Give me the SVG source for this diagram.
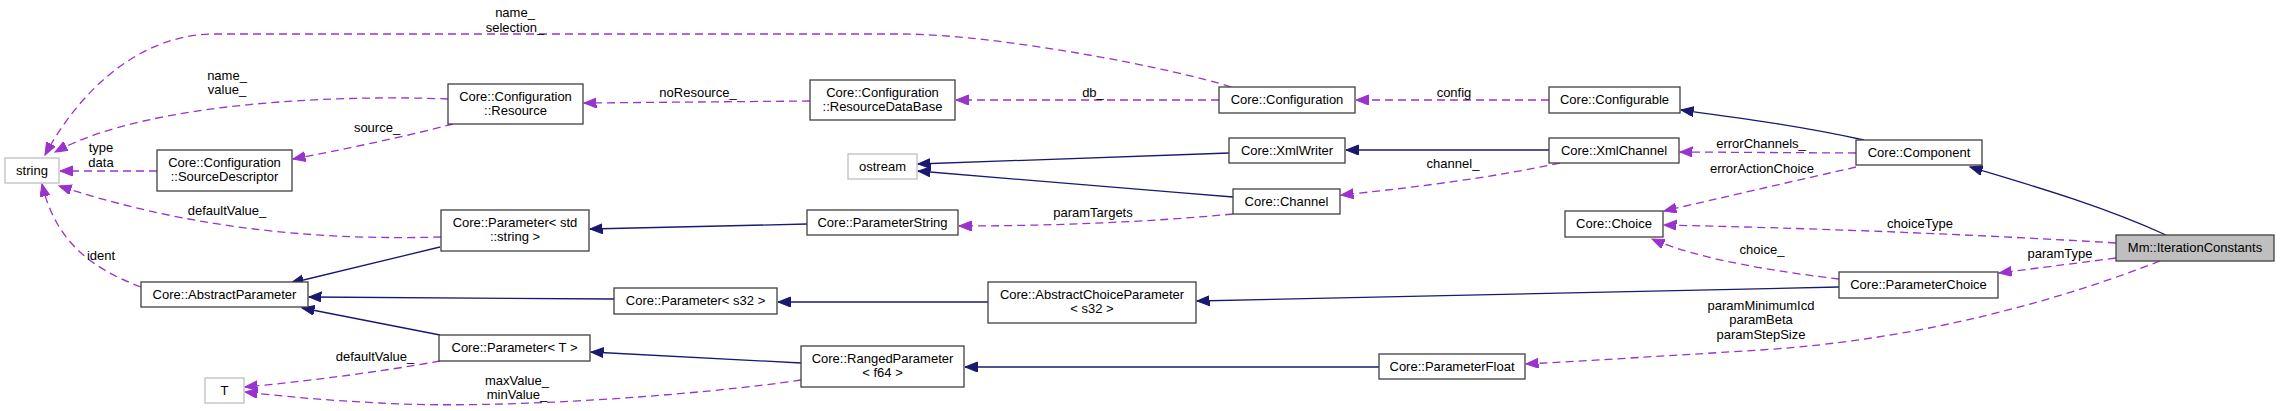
<svg xmlns="http://www.w3.org/2000/svg" width="2280" height="411" viewBox="0 0 2280 411">
<defs>
<marker id="ab" markerUnits="userSpaceOnUse" markerWidth="14" markerHeight="11" refX="12.5" refY="5" orient="auto"><path d="M0,0 L12.5,5 L0,10 Z" fill="#191970" stroke="#191970"/></marker>
<marker id="ap" markerUnits="userSpaceOnUse" markerWidth="14" markerHeight="11" refX="12.5" refY="5" orient="auto"><path d="M0,0 L12.5,5 L0,10 Z" fill="#9a32cd" stroke="#9a32cd"/></marker>
<style>
text{font-family:"Liberation Sans",Arial,sans-serif;font-size:13px;fill:#000;text-anchor:middle}
.n rect{fill:#fff;stroke:#404040;stroke-width:1.3}
.g rect{fill:#fff;stroke:#bfbfbf;stroke-width:1.3}
.h rect{fill:#bfbfbf;stroke:#404040;stroke-width:1.3}
.b{fill:none;stroke:#191970;stroke-width:1.3;marker-end:url(#ab)}
.p{fill:none;stroke:#9a32cd;stroke-width:1.3;stroke-dasharray:8,5;marker-end:url(#ap)}
</style>
</defs>
<rect width="2280" height="411" fill="#fff"/>
<g id="edges">
<path class="p" d="M1231,87 C1180,70 1000,34 900,34 L215,34 C140,34 80,90 45,155"/>
<path class="p" d="M448,99 C350,95 150,100 55,152"/>
<path class="p" d="M157,171 L60,171"/>
<path class="p" d="M453,124 C400,138 340,150 293,159"/>
<path class="p" d="M810,101 L584,103"/>
<path class="p" d="M1219,100 L956,100"/>
<path class="p" d="M1549,100 L1356,100"/>
<path class="b" d="M1864,140 C1800,126 1740,118 1681,110"/>
<path class="b" d="M1549,150 L1346,150"/>
<path class="b" d="M1229,153 C1100,157 1000,161 918,164"/>
<path class="b" d="M1233,197 C1120,188 1000,177 918,171"/>
<path class="p" d="M1560,163 C1490,178 1410,188 1341,195"/>
<path class="p" d="M1856,153 L1680,152"/>
<path class="p" d="M1856,167 C1790,182 1720,198 1664,211"/>
<path class="p" d="M2116,243 C1950,233 1800,228 1664,225"/>
<path class="p" d="M1839,279 C1780,272 1700,260 1652,239"/>
<path class="p" d="M2116,258 C2070,264 2030,269 1999,273"/>
<path class="b" d="M1839,287 L1197,301"/>
<path class="p" d="M2160,261 C2060,300 1920,340 1760,350 C1680,355 1600,360 1526,364"/>
<path class="b" d="M1379,367 L965,367"/>
<path class="b" d="M801,363 L591,352"/>
<path class="p" d="M801,380 C700,395 500,410 380,403 C320,400 280,396 245,392"/>
<path class="p" d="M440,361 C380,372 300,382 245,387"/>
<path class="b" d="M988,302 L778,302"/>
<path class="b" d="M614,299 L309,297"/>
<path class="b" d="M440,335 L302,308"/>
<path class="b" d="M440,247 L291,283"/>
<path class="b" d="M807,224 L590,229"/>
<path class="p" d="M1233,214 C1150,222 1050,226 959,226"/>
<path class="p" d="M441,237 C330,240 200,232 59,186"/>
<path class="p" d="M141,287 C90,268 55,240 42,184"/>
<path class="b" d="M2166,235 C2100,205 2030,185 1970,167"/>
</g>
<g id="edge-labels">
<text x="515" y="16.5">name_</text><text x="515" y="31.5">selection_</text>
<text x="227" y="79.5">name_</text><text x="227" y="93.5">value_</text>
<text x="377" y="131.5">source_</text>
<text x="101" y="151.5">type</text><text x="101" y="166.5">data</text>
<text x="227" y="214.5">defaultValue_</text>
<text x="101" y="259.5">ident</text>
<text x="375" y="360.5">defaultValue_</text>
<text x="517" y="384.5">maxValue_</text><text x="517" y="398.5">minValue_</text>
<text x="698" y="96.5">noResource_</text>
<text x="1093" y="96.5">db_</text>
<text x="1093" y="216.5">paramTargets</text>
<text x="1454" y="96.5">config</text>
<text x="1453" y="167.5">channel_</text>
<text x="1761" y="147.5">errorChannels_</text>
<text x="1762" y="172.5">errorActionChoice</text>
<text x="1920" y="227.5">choiceType</text>
<text x="1762" y="253.5">choice_</text>
<text x="2060" y="257.5">paramType</text>
<text x="1761" y="309.5">paramMinimumIcd</text><text x="1761" y="323.5">paramBeta</text><text x="1761" y="338.5">paramStepSize</text>
</g>
<g id="n-string" class="g"><rect x="5" y="158" width="54" height="25"/><text x="32" y="175">string</text></g>
<g id="n-resource" class="n"><rect x="448" y="84" width="135" height="40"/><text x="515.5" y="100.5">Core::Configuration</text><text x="515.5" y="114.5">::Resource</text></g>
<g id="n-sourcedescriptor" class="n"><rect x="157" y="150" width="135" height="41"/><text x="224.5" y="166.5">Core::Configuration</text><text x="224.5" y="180.5">::SourceDescriptor</text></g>
<g id="n-paramstring-std" class="n"><rect x="441" y="210" width="148" height="41"/><text x="515" y="226.5">Core::Parameter&lt; std</text><text x="515" y="240.5">::string &gt;</text></g>
<g id="n-abstractparameter" class="n"><rect x="141" y="282" width="167" height="25"/><text x="224.5" y="299">Core::AbstractParameter</text></g>
<g id="n-parameter-t" class="n"><rect x="439" y="335" width="151" height="26"/><text x="514.5" y="352">Core::Parameter&lt; T &gt;</text></g>
<g id="n-t" class="g"><rect x="205" y="378" width="39" height="25"/><text x="224.5" y="395">T</text></g>
<g id="n-resourcedatabase" class="n"><rect x="810" y="80" width="145" height="40"/><text x="882.5" y="96.5">Core::Configuration</text><text x="882.5" y="110.5">::ResourceDataBase</text></g>
<g id="n-ostream" class="g"><rect x="848" y="154" width="69" height="25"/><text x="882.5" y="171">ostream</text></g>
<g id="n-parameterstring" class="n"><rect x="807" y="210" width="151" height="25"/><text x="882.5" y="227">Core::ParameterString</text></g>
<g id="n-parameter-s32" class="n"><rect x="614" y="288" width="163" height="26"/><text x="695.5" y="305">Core::Parameter&lt; s32 &gt;</text></g>
<g id="n-abstractchoiceparameter" class="n"><rect x="988" y="282" width="208" height="41"/><text x="1092" y="298.5">Core::AbstractChoiceParameter</text><text x="1092" y="312.5">&lt; s32 &gt;</text></g>
<g id="n-rangedparameter" class="n"><rect x="801" y="346" width="163" height="41"/><text x="882.5" y="362.5">Core::RangedParameter</text><text x="882.5" y="376.5">&lt; f64 &gt;</text></g>
<g id="n-configuration" class="n"><rect x="1219" y="87" width="136" height="26"/><text x="1287" y="104">Core::Configuration</text></g>
<g id="n-configurable" class="n"><rect x="1549" y="87" width="131" height="26"/><text x="1614.5" y="104">Core::Configurable</text></g>
<g id="n-xmlwriter" class="n"><rect x="1229" y="138" width="116" height="25"/><text x="1287" y="155">Core::XmlWriter</text></g>
<g id="n-xmlchannel" class="n"><rect x="1549" y="138" width="130" height="25"/><text x="1614" y="155">Core::XmlChannel</text></g>
<g id="n-channel" class="n"><rect x="1233" y="189" width="107" height="25"/><text x="1286.5" y="206">Core::Channel</text></g>
<g id="n-choice" class="n"><rect x="1565" y="211" width="98" height="26"/><text x="1614" y="228">Core::Choice</text></g>
<g id="n-parameterfloat" class="n"><rect x="1379" y="354" width="146" height="25"/><text x="1452" y="371">Core::ParameterFloat</text></g>
<g id="n-component" class="n"><rect x="1856" y="140" width="126" height="25"/><text x="1919" y="157">Core::Component</text></g>
<g id="n-parameterchoice" class="n"><rect x="1839" y="272" width="159" height="26"/><text x="1918.5" y="289">Core::ParameterChoice</text></g>
<g id="n-iterationconstants" class="h"><rect x="2116" y="235" width="158" height="26"/><text x="2195" y="252">Mm::IterationConstants</text></g>
</svg>
